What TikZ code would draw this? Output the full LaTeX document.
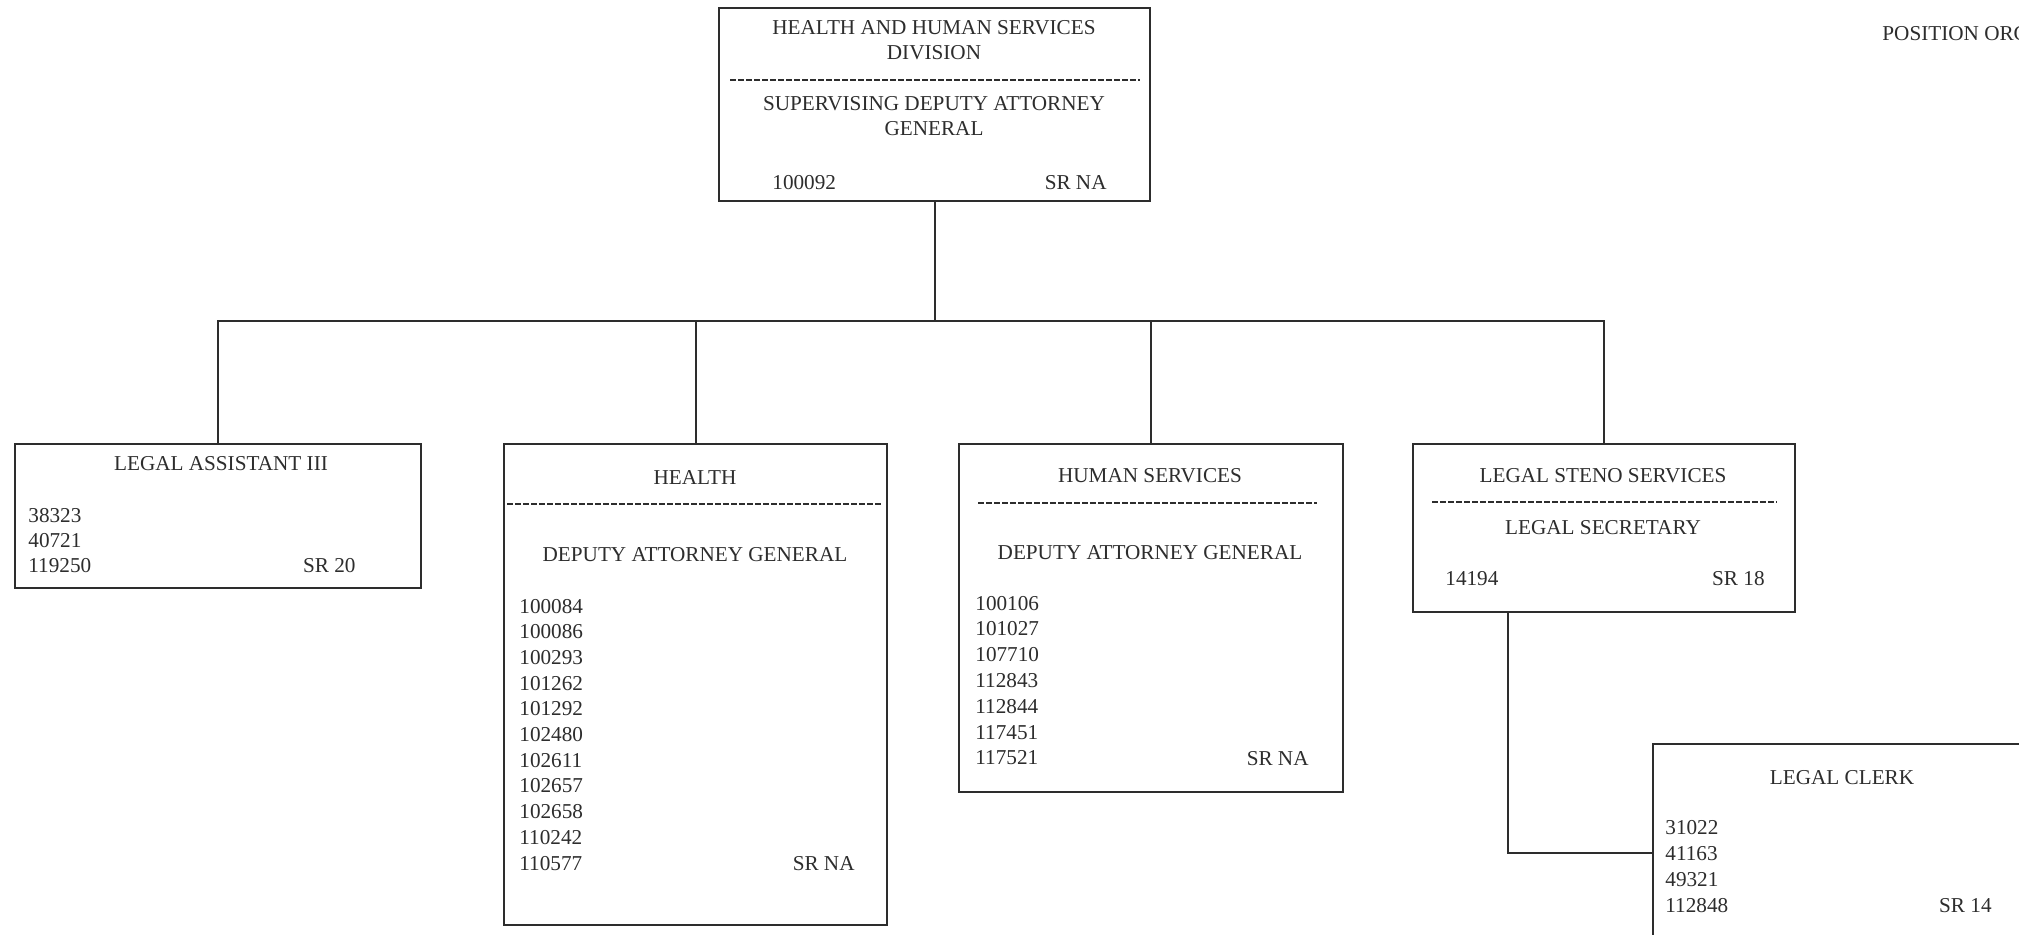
\documentclass[tikz,border=0pt]{standalone}
\usepackage{fontspec}
\setmainfont{Liberation Serif}
\usetikzlibrary{calc}
\definecolor{ink}{RGB}{45,45,45}
\tikzset{
  box/.style={draw=ink, line width=1.1pt, rectangle, inner sep=0pt, anchor=north west, fill=white},
  wire/.style={draw=ink, line width=1.1pt},
  divider/.style={draw=ink, line width=0.8pt, dash pattern=on 3pt off 1pt},
  lbl/.style={inner sep=0pt, text=ink, font=\fontsize{10.6}{12.8}\selectfont},
  ctr/.style={lbl, anchor=base},
  lft/.style={lbl, anchor=base west},
  rgt/.style={lbl, anchor=base east}
}
\begin{document}
\begin{tikzpicture}[x=0.5pt,y=-0.5pt]
\useasboundingbox (0,0) rectangle (2019,934);
\clip (0,0) rectangle (2019,934);
\fill[white] (0,0) rectangle (2019,934);

% boxes
\node[box, minimum width=215.5pt, minimum height=96.5pt] (top) at (718,7) {};
\node[box, minimum width=203pt, minimum height=72pt] (la) at (14,443) {};
\node[box, minimum width=191.5pt, minimum height=240.5pt] (health) at (503,443) {};
\node[box, minimum width=192pt, minimum height=174pt] (hs) at (958,443) {};
\node[box, minimum width=191pt, minimum height=84pt] (steno) at (1412,443) {};
\node[box, minimum width=190pt, minimum height=108.5pt] (clerk) at (1652,743) {};

% connectors
\coordinate (bus) at (935,321);
\draw[wire] (top.south) -- (top.south |- bus);
\draw[wire] (la.north) |- (bus) -| (steno.north);
\draw[wire] (health.north) -- (health.north |- bus);
\draw[wire] (hs.north) -- (hs.north |- bus);
\coordinate (stenodrop) at ($(steno.south west)!0.25!(steno.south east)$);
\draw[wire] (stenodrop) |- (clerk.west);

% top box
\node[ctr] (t1) at (934,34) {HEALTH AND HUMAN SERVICES};
\node[ctr] (t2) at (934,59) {DIVISION};
\draw[divider] (730,80) -- (1140,80);
\node[ctr] (t3) at (934,110) {SUPERVISING DEPUTY ATTORNEY};
\node[ctr] (t4) at (934,135) {GENERAL};
\node[lft] (t5) at (772,189) {100092};
\node[rgt] (t6) at (1107,189) {SR NA};

% legal assistant
\node[ctr] (la1) at (221,470) {LEGAL ASSISTANT III};
\foreach \n [count=\i from 0] in {38323,40721,119250}
  \node[lft] (lan\i) at (28,522+25*\i) {\n};
\node[rgt] (la2) at (356,572) {SR 20};

% health
\node[ctr] (h1) at (695,484) {HEALTH};
\draw[divider] (507,504) -- (881,504);
\node[ctr] (h2) at (695,561) {DEPUTY ATTORNEY GENERAL};
\foreach \n [count=\i from 0] in {100084,100086,100293,101262,101292,102480,102611,102657,102658,110242,110577}
  \node[lft] (hn\i) at (519,613+25.7*\i) {\n};
\node[rgt] (h3) at (855,870) {SR NA};

% human services
\node[ctr] (s1) at (1150,482) {HUMAN SERVICES};
\draw[divider] (978,503) -- (1317,503);
\node[ctr] (s2) at (1150,559) {DEPUTY ATTORNEY GENERAL};
\foreach \n [count=\i from 0] in {100106,101027,107710,112843,112844,117451,117521}
  \node[lft] (sn\i) at (975,610+25.8*\i) {\n};
\node[rgt] (s3) at (1309,765) {SR NA};

% legal steno
\node[ctr] (l1) at (1603,482) {LEGAL STENO SERVICES};
\draw[divider] (1432,502) -- (1777,502);
\node[ctr] (l2) at (1603,534) {LEGAL SECRETARY};
\node[lft] (l3) at (1445,585) {14194};
\node[rgt] (l4) at (1765,585) {SR 18};

% legal clerk
\node[ctr] (c1) at (1842,784) {LEGAL CLERK};
\foreach \n [count=\i from 0] in {31022,41163,49321,112848}
  \node[lft] (cn\i) at (1665,834+26*\i) {\n};
\node[rgt] (c2) at (1992,912) {SR 14};

% header
\node[lft] (hdr) at (1882,40) {POSITION ORG};
\end{tikzpicture}
\end{document}
